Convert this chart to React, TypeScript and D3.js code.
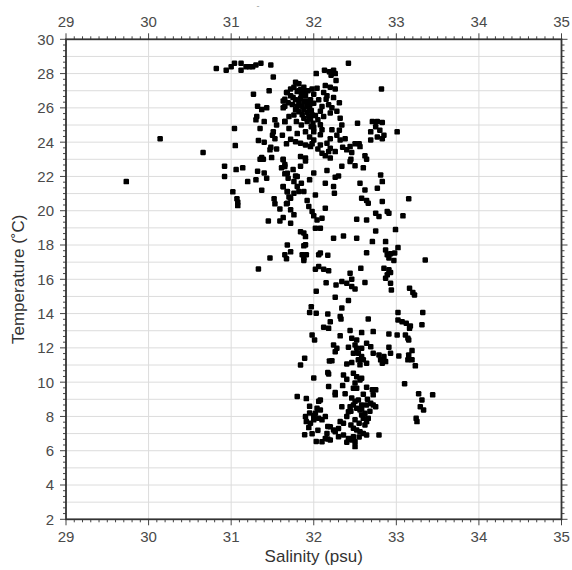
import React from 'react';
import * as d3 from 'd3';

// [salinity (psu), temperature (°C)]
const surfaceLayer: [number, number][] = [
  [30.82, 28.3], [30.94, 28.2], [31.0, 28.4], [31.04, 28.6], [31.12, 28.6], [31.12, 28.2],
  [31.18, 28.4], [31.22, 28.4], [31.26, 28.4], [31.3, 28.5], [31.36, 28.6], [31.48, 28.5],
  [31.51, 27.8], [32.42, 28.6], [32.03, 28.0], [32.13, 28.2], [32.19, 28.1], [32.24, 28.2],
  [32.26, 28.0], [32.21, 27.9], [32.27, 27.6], [32.82, 27.1],
];

const warmCore: [number, number][] = [
  [31.27, 26.8], [31.46, 27.0], [31.67, 26.9], [31.63, 26.4], [31.65, 26.1], [31.32, 26.1],
  [31.37, 25.9], [31.43, 26.0], [31.31, 25.5], [31.3, 25.3], [31.4, 25.2], [31.53, 25.3],
  [31.55, 25.0], [31.65, 25.2], [31.35, 24.8], [31.04, 24.8], [31.51, 24.6], [31.5, 24.4],
  [31.53, 24.2], [31.33, 24.1], [31.4, 24.0], [31.67, 23.9], [30.14, 24.2], [31.05, 23.8],
  [31.48, 23.7], [31.47, 23.55], [31.55, 23.6], [30.66, 23.4],
  [31.78, 27.5], [31.82, 27.4], [31.76, 27.2], [31.72, 27.1], [31.68, 26.9], [31.8, 26.95],
  [31.84, 27.05], [31.88, 27.2], [31.98, 27.1], [32.04, 27.15], [32.14, 27.3], [32.2, 27.2],
  [32.26, 27.1], [32.12, 26.9], [32.16, 26.7], [32.24, 26.6], [32.31, 26.3], [31.65, 26.5],
  [31.69, 26.3], [31.74, 26.2], [31.78, 26.47], [31.82, 26.27], [31.86, 26.1], [31.88, 25.9],
  [31.92, 26.1], [31.96, 26.47], [31.9, 26.7], [32.0, 26.27], [32.06, 26.47], [32.1, 26.08],
  [32.18, 26.18], [32.2, 25.7], [32.08, 25.8], [31.98, 25.6], [31.94, 25.5], [31.92, 25.2],
  [31.82, 25.78], [31.76, 25.59], [31.65, 25.2], [31.63, 26.0], [32.32, 25.4], [32.34, 25.0],
  [32.31, 24.7], [32.08, 25.01], [32.1, 24.72], [32.08, 24.43], [32.53, 25.1],
  [31.75, 26.6], [31.85, 26.8], [31.9, 26.4], [31.95, 26.0], [31.78, 25.9], [31.7, 25.5],
  [31.88, 25.4], [31.97, 24.9], [31.9, 24.6], [31.85, 25.0], [31.95, 24.3], [31.98, 23.9],
  [31.7, 24.8], [31.8, 24.5], [31.62, 24.4], [31.93, 27.0], [32.0, 26.8], [32.15, 26.5],
  [32.22, 26.0], [32.28, 25.8], [32.05, 25.3], [32.12, 25.5], [32.0, 24.6], [32.2, 24.2],
  [31.84, 26.55], [31.88, 26.35], [31.92, 25.75], [31.86, 25.6], [31.8, 26.1], [31.96, 25.35],
  [31.99, 25.1], [32.0, 24.85], [31.94, 26.2], [31.82, 27.0], [31.9, 26.95], [31.97, 25.85],
  [32.02, 25.55], [31.72, 26.7], [31.79, 25.2],
];

const eastCluster: [number, number][] = [
  [32.71, 25.2], [32.77, 25.2], [32.83, 25.15], [32.75, 24.9], [32.69, 24.6], [32.8, 24.7],
  [32.85, 24.4], [32.77, 24.3], [32.69, 24.13], [32.83, 24.2], [33.01, 24.6],
];

const thermoclineUpper: [number, number][] = [
  [32.22, 24.72], [32.28, 24.4], [32.32, 24.13], [32.38, 24.2], [32.44, 23.74], [32.5, 23.9],
  [32.56, 23.74], [32.4, 23.55], [32.46, 23.4], [31.72, 24.17], [31.78, 24.03], [31.84, 23.94],
  [31.9, 23.84], [31.96, 23.74], [32.0, 24.13], [32.08, 23.84], [32.16, 23.94], [32.2, 23.65],
  [32.1, 23.36], [32.14, 23.2], [32.2, 23.07], [32.18, 23.45], [32.26, 23.45], [31.63, 22.97],
  [31.84, 23.16], [31.9, 23.07], [31.84, 22.6], [32.34, 22.6], [32.44, 22.87], [32.5, 22.63],
  [32.62, 23.2], [32.64, 23.0], [32.6, 22.5], [31.37, 23.1], [31.39, 23.0], [31.35, 23.0],
  [31.49, 23.1], [31.63, 23.0], [30.92, 22.6], [31.06, 22.4], [31.14, 22.5], [31.32, 22.3],
  [31.4, 22.2], [31.43, 21.9], [31.61, 22.5], [31.65, 22.7], [31.65, 22.15], [30.92, 22.0],
  [29.73, 21.7], [31.2, 21.7], [31.3, 21.8], [31.37, 21.2], [31.63, 21.4], [31.68, 21.1],
  [31.02, 21.1], [31.07, 20.7], [31.08, 20.5], [31.08, 20.3], [31.52, 20.7], [31.53, 20.4],
  [31.59, 20.1], [31.67, 20.4], [32.35, 23.7], [32.45, 23.0], [32.55, 23.9], [32.05, 23.6],
  [31.9, 22.9], [31.75, 22.4], [31.8, 22.0], [32.0, 22.2], [31.85, 21.6], [31.7, 20.8],
  [31.92, 20.6],
];

const thermoclineLower: [number, number][] = [
  [31.65, 22.58], [31.68, 22.19], [31.69, 21.9], [31.78, 22.03], [31.76, 21.7], [31.8, 21.41],
  [31.63, 21.41], [31.68, 21.12], [31.76, 21.02], [31.82, 21.12], [31.88, 21.12], [31.72, 20.73],
  [31.68, 20.44], [32.16, 22.35], [31.95, 21.8], [32.26, 21.96], [32.3, 22.03], [32.24, 21.41],
  [32.25, 21.02], [32.14, 21.6], [32.56, 21.6], [32.62, 21.21], [32.77, 21.31], [32.81, 22.09],
  [32.83, 21.7], [32.02, 20.92], [32.58, 20.73], [32.64, 20.6], [32.66, 20.44], [32.83, 20.54],
  [33.15, 20.7], [31.94, 20.25], [31.98, 19.96], [32.0, 19.7], [32.04, 19.46], [32.1, 19.56],
  [32.14, 20.15], [32.75, 19.86], [32.79, 19.66], [32.89, 19.96], [32.91, 19.86], [33.08, 19.7],
  [32.52, 19.5], [32.64, 19.46], [31.72, 20.05], [31.76, 19.76], [31.72, 19.27], [32.02, 18.98],
  [32.08, 18.98], [31.84, 18.78], [31.88, 18.7], [31.9, 18.49], [32.75, 18.82], [32.99, 18.9],
  [32.24, 18.4], [32.36, 18.53], [32.52, 18.4], [32.71, 18.2], [32.87, 18.2], [31.68, 18.0],
  [31.88, 17.95], [33.02, 17.85], [31.45, 19.4], [31.59, 19.4], [31.63, 19.6],
];

const midWater: [number, number][] = [
  [31.9, 18.01], [31.65, 17.43], [31.72, 17.6], [31.67, 17.2], [31.47, 17.24], [31.86, 17.43],
  [31.88, 17.24], [31.91, 17.43], [31.88, 17.1], [32.06, 17.43], [32.17, 17.4], [31.33, 16.6],
  [32.02, 16.59], [32.06, 16.74], [32.12, 16.59], [32.18, 16.5], [32.15, 15.8], [32.03, 15.3],
  [31.97, 14.4], [31.95, 14.06], [32.03, 14.02], [32.17, 13.98], [32.12, 13.2], [32.18, 13.14],
  [31.98, 12.75], [32.01, 12.46], [32.64, 17.55], [32.87, 17.71], [32.89, 17.43], [32.93, 17.49],
  [32.98, 17.53], [32.91, 17.24], [32.97, 17.1], [32.08, 17.53], [33.35, 17.13], [32.57, 16.64],
  [32.85, 16.64], [32.91, 16.55], [32.89, 16.26], [32.87, 16.06], [32.93, 16.4], [32.44, 16.36],
  [32.46, 16.01], [32.27, 15.67], [32.34, 15.87], [32.4, 15.77], [32.46, 15.58], [32.5, 15.43],
  [32.62, 15.81], [32.93, 15.77], [32.94, 15.38], [33.16, 15.48], [33.2, 15.23], [33.22, 15.09],
  [32.26, 14.96], [32.42, 14.76], [32.34, 14.32], [32.32, 13.83], [32.33, 13.68], [32.2, 13.53],
  [32.66, 13.68], [33.02, 14.07], [33.02, 13.63], [33.07, 13.53], [33.12, 13.44], [33.17, 13.28],
  [33.16, 13.14], [33.32, 14.07], [33.31, 13.35], [32.44, 13.01], [32.58, 12.89], [32.72, 12.95],
  [32.91, 12.81], [33.01, 12.75], [33.11, 12.75], [33.14, 12.56], [33.15, 12.46], [32.32, 12.7],
  [32.46, 12.56], [32.52, 12.46],
];

const deepWater: [number, number][] = [
  [31.89, 11.4], [31.84, 11.0], [32.19, 11.24], [32.17, 10.56], [32.0, 10.24], [32.18, 9.75],
  [31.8, 9.17], [31.91, 9.04], [31.95, 8.59], [32.06, 8.88], [32.04, 8.48], [32.08, 8.38],
  [31.9, 7.99], [31.91, 7.7], [31.96, 7.6], [32.0, 7.8], [32.06, 7.89], [32.1, 7.8],
  [32.14, 7.99], [32.02, 8.19], [32.17, 7.42], [31.89, 6.93], [31.98, 6.99], [32.03, 6.54],
  [32.17, 6.68], [32.24, 12.17], [32.28, 11.98], [32.26, 11.78], [32.42, 12.04], [32.5, 12.17],
  [32.52, 11.98], [32.58, 11.98], [32.64, 12.27], [32.69, 12.07], [32.48, 11.69], [32.91, 12.04],
  [32.93, 11.69], [33.19, 11.84], [33.15, 11.59], [33.14, 11.3], [33.19, 11.3], [33.23, 10.95],
  [33.03, 11.53], [32.54, 11.69], [32.58, 11.49], [32.54, 11.3], [32.6, 11.3], [32.56, 11.01],
  [32.64, 11.11], [32.72, 11.69], [32.79, 11.59], [32.81, 11.3], [32.85, 11.49], [32.83, 11.11],
  [32.87, 11.2], [32.22, 11.25], [32.4, 11.06], [32.46, 11.14], [32.18, 10.48], [32.36, 10.42],
  [32.4, 10.17], [32.48, 10.52], [32.52, 10.32], [32.56, 10.13], [32.58, 10.23], [32.26, 9.26],
  [32.26, 9.39], [32.38, 9.32], [32.48, 9.65], [32.52, 9.65], [32.64, 9.71], [32.71, 9.55],
  [32.75, 9.55], [32.72, 9.26], [33.1, 9.91], [33.27, 9.32], [33.44, 9.26], [33.31, 8.96],
];

const bottomWater: [number, number][] = [
  [32.46, 9.07], [32.5, 8.88], [32.54, 8.96], [32.48, 8.67], [32.52, 8.48], [32.58, 8.67],
  [32.56, 8.38], [32.64, 8.67], [32.69, 8.77], [32.72, 8.67], [32.75, 8.57], [32.34, 8.57],
  [32.44, 8.57], [32.42, 8.28], [33.29, 8.57], [33.33, 8.38], [33.24, 7.89], [33.25, 7.7],
  [32.08, 8.96], [32.58, 8.09], [32.62, 8.19], [32.6, 7.89], [32.66, 7.89], [32.64, 7.7],
  [32.62, 7.5], [32.32, 7.7], [32.36, 7.6], [32.2, 7.4], [32.24, 7.21], [32.48, 7.31],
  [32.52, 7.21], [32.56, 7.11], [32.6, 7.01], [32.64, 6.92], [32.16, 7.01], [32.26, 7.11],
  [32.3, 6.82], [32.36, 6.92], [32.42, 6.72], [32.46, 6.63], [32.5, 6.53], [32.48, 6.82],
  [32.5, 6.24], [32.79, 6.92], [32.14, 6.72], [32.2, 6.63], [32.1, 6.53],
  [31.95, 8.2], [32.0, 8.05], [32.45, 7.5], [32.5, 7.8], [32.55, 7.6], [32.4, 8.0],
  [32.45, 8.3], [32.6, 9.3], [32.65, 9.0], [32.35, 9.8], [32.5, 9.95], [32.55, 6.8],
  [32.4, 6.5], [32.3, 7.3], [32.58, 8.45], [32.68, 8.3], [32.05, 7.2], [31.94, 7.35],
];

const xTicks = [29, 30, 31, 32, 33, 34, 35];
const yTicks = [2, 4, 6, 8, 10, 12, 14, 16, 18, 20, 22, 24, 26, 28, 30];

const W = 572;
const H = 570;
const font = '"Liberation Sans", Arial, Helvetica, sans-serif';

export default function App() {
  const x = d3.scaleLinear().domain([29, 35]).range([66, 561.5]);
  const y = d3.scaleLinear().domain([2, 30]).range([519.3, 39.3]);
  const [x0, x1] = x.range();
  const [y0, y1] = y.range();

  const points = [
    ...surfaceLayer, ...warmCore, ...eastCluster, ...thermoclineUpper,
    ...thermoclineLower, ...midWater, ...deepWater, ...bottomWater,
  ];

  const xMinor = d3.range(0, 61).map(i => 29 + i / 10);
  const yMinor = d3.range(0, 85).map(i => 2 + i / 3);
  const hGrid = d3.range(3, 30);
  const vGrid = d3.range(30, 35);
  const tickCol = '#444';

  return (
    <svg width={W} height={H} style={{ position: 'absolute', left: 0, top: 0, background: '#fff' }}>
      <rect x={0} y={0} width={W} height={H} fill="#fff" />
      {/* grid */}
      <g stroke="#dcdcdc" strokeWidth={1}>
        {hGrid.map(v => (
          <line key={'h' + v} x1={x0} x2={x1} y1={y(v)} y2={y(v)} />
        ))}
        {vGrid.map(v => (
          <line key={'v' + v} x1={x(v)} x2={x(v)} y1={y0} y2={y1} />
        ))}
      </g>

      {/* points */}
      <g fill="#000">
        {points.map((d, i) => (
          <rect key={i} x={x(d[0]) - 2.75} y={y(d[1]) - 2.75} width={5.5} height={5.5} rx={1.2} />
        ))}
      </g>

      {/* minor + major ticks */}
      <g stroke={tickCol} strokeWidth={1}>
        {xMinor.map((v, i) => {
          const major = i % 10 === 0;
          const len = major ? 6 : 3;
          return (
            <g key={'xt' + i}>
              <line x1={x(v)} x2={x(v)} y1={y1} y2={y1 - len} />
              <line x1={x(v)} x2={x(v)} y1={y0} y2={y0 + len} />
            </g>
          );
        })}
        {yMinor.map((v, i) => {
          const major = i % 6 === 0;
          const len = major ? 6 : 3;
          return (
            <g key={'yt' + i}>
              <line x1={x0} x2={x0 - len} y1={y(v)} y2={y(v)} />
              <line x1={x1} x2={x1 + len} y1={y(v)} y2={y(v)} />
            </g>
          );
        })}
      </g>

      {/* frame */}
      <rect x={x0} y={y1} width={x1 - x0} height={y0 - y1} fill="none" stroke="#333" strokeWidth={1.8} />

      {/* tick labels */}
      <g fontFamily={font} fontSize={15} fill="#4a4a4a">
        {xTicks.map(v => (
          <text key={'xb' + v} x={x(v)} y={y0 + 23} textAnchor="middle">{v}</text>
        ))}
        {xTicks.map(v => (
          <text key={'xtop' + v} x={x(v)} y={y1 - 12} textAnchor="middle">{v}</text>
        ))}
        {yTicks.map(v => (
          <text key={'yl' + v} x={x0 - 12} y={y(v)} dy="0.36em" textAnchor="end">{v}</text>
        ))}
      </g>

      {/* axis titles */}
      <text x={(x0 + x1) / 2} y={562} textAnchor="middle" fontFamily={font} fontSize={17} fill="#333">
        Salinity (psu)
      </text>
      <text
        transform={`translate(24, ${(y0 + y1) / 2}) rotate(-90)`}
        textAnchor="middle"
        fontFamily={font}
        fontSize={17}
        fill="#333"
      >
        Temperature (˚C)
      </text>
      <text x={258} y={9} textAnchor="middle" fontFamily={font} fontSize={9} fill="#999">-</text>
    </svg>
  );
}
